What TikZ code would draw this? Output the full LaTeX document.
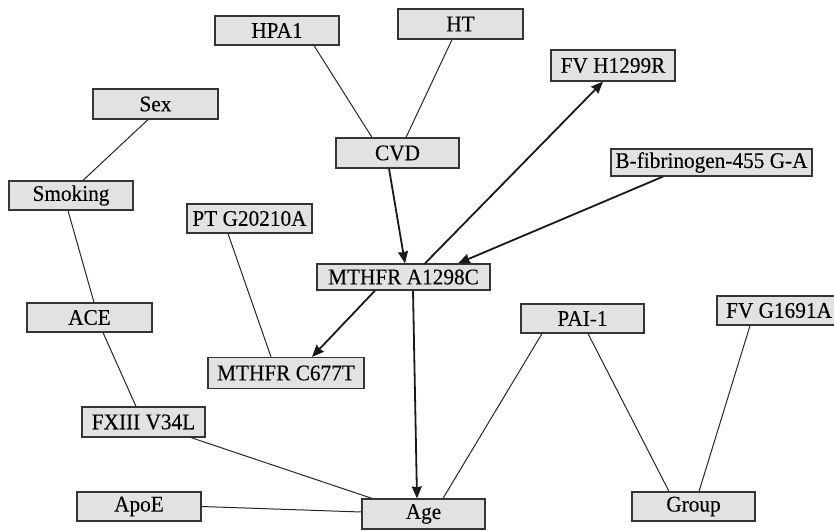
\documentclass[tikz,border=0pt]{standalone}
\usepackage{fontspec}
\setmainfont[FakeStretch=0.95,FakeBold=0.12]{Liberation Serif}
\usetikzlibrary{arrows.meta}
\definecolor{boxfill}{HTML}{E2E2E2}
\definecolor{boxline}{HTML}{353535}
\tikzset{
  var/.style={draw=boxline, fill=boxfill, line width=1.2pt, rectangle, inner sep=0pt,
    font=\fontsize{22.4}{23}\selectfont, text=black},
  link/.style={line width=1pt, black!85},
  dirlink/.style={line width=1.8pt, black!90, -{Stealth[length=12pt,width=10pt,inset=1pt]}}
}
\begin{document}
\begin{tikzpicture}[x=1pt,y=-1pt]
\useasboundingbox (0,0) rectangle (834,530);
% nodes
\node[var, minimum width=124pt, minimum height=29pt] (hpa) at (277,30.5) {HPA1};
\node[var, minimum width=125pt, minimum height=30pt] (ht) at (460.5,24) {HT};
\node[var, minimum width=125pt, minimum height=30pt] (sex) at (155.5,104) {Sex};
\node[var, minimum width=123pt, minimum height=30pt] (cvd) at (397.5,153) {CVD};
\node[var, minimum width=124pt, minimum height=31pt] (fvh) at (613,65.5) {FV H1299R};
\node[var, minimum width=201pt, minimum height=27pt] (bfib) at (711.5,162.5) {B-fibrinogen-455 G-A};
\node[var, minimum width=124pt, minimum height=29pt] (smk) at (71,195.5) {Smoking};
\node[var, minimum width=125pt, minimum height=29pt] (pt) at (249.5,218.5) {PT G20210A};
\node[var, minimum width=173pt, minimum height=26pt] (ma) at (403.5,277) {MTHFR A1298C};
\node[var, minimum width=125pt, minimum height=29pt] (ace) at (89.5,317.5) {ACE};
\node[var, minimum width=123pt, minimum height=29pt] (pai) at (582.5,318.5) {PAI-1};
\node[var, minimum width=124pt, minimum height=29pt] (fvg) at (779,310.5) {FV G1691A};
\node[var, minimum width=156pt, minimum height=31pt] (mc) at (286,373) {MTHFR C677T};
\node[var, minimum width=123pt, minimum height=30pt] (fx) at (143.5,422) {FXIII V34L};
\node[var, minimum width=124pt, minimum height=29pt] (apoe) at (139,506.5) {ApoE};
\node[var, minimum width=123pt, minimum height=30pt] (age) at (423.5,514) {Age};
\node[var, minimum width=123pt, minimum height=29pt] (grp) at (693.5,506.5) {Group};
% undirected links
\draw[link] ([xshift=37pt]hpa.south) -- ([xshift=-25.5pt]cvd.north);
\draw[link] ([xshift=-8.5pt]ht.south) -- ([xshift=8.5pt]cvd.north);
\draw[link] ([xshift=-7.5pt]sex.south) -- ([xshift=12pt]smk.north);
\draw[link] ([xshift=-3pt]smk.south) -- ([xshift=4.5pt]ace.north);
\draw[link] ([xshift=13.5pt]ace.south) -- ([xshift=-7.5pt]fx.north);
\draw[link] ([xshift=47.5pt]fx.south) -- ([xshift=-51.5pt]age.north);
\draw[link] (apoe.east) -- ([yshift=2pt]age.west);
\draw[link] ([xshift=-21.5pt]pt.south) -- ([xshift=-15pt]mc.north);
\draw[link] ([xshift=-40.5pt]pai.south) -- ([xshift=19.5pt]age.north);
\draw[link] ([xshift=5.5pt]pai.south) -- ([xshift=-24.5pt]grp.north);
\draw[link] ([xshift=-29pt]fvg.south) -- ([xshift=5.5pt]grp.north);
% directed links
\draw[dirlink] ([xshift=-8.5pt]cvd.south) -- ([xshift=1.5pt]ma.north);
\draw[dirlink] ([xshift=21.5pt]ma.north) -- ([xshift=-10pt]fvh.south);
\draw[dirlink] ([xshift=-48.5pt]bfib.south) -- ([xshift=54.5pt]ma.north);
\draw[dirlink] ([xshift=-28.5pt]ma.south) -- ([xshift=26pt]mc.north);
\draw[dirlink] ([xshift=9.5pt]ma.south) -- ([xshift=-6.5pt]age.north);
\end{tikzpicture}
\end{document}
